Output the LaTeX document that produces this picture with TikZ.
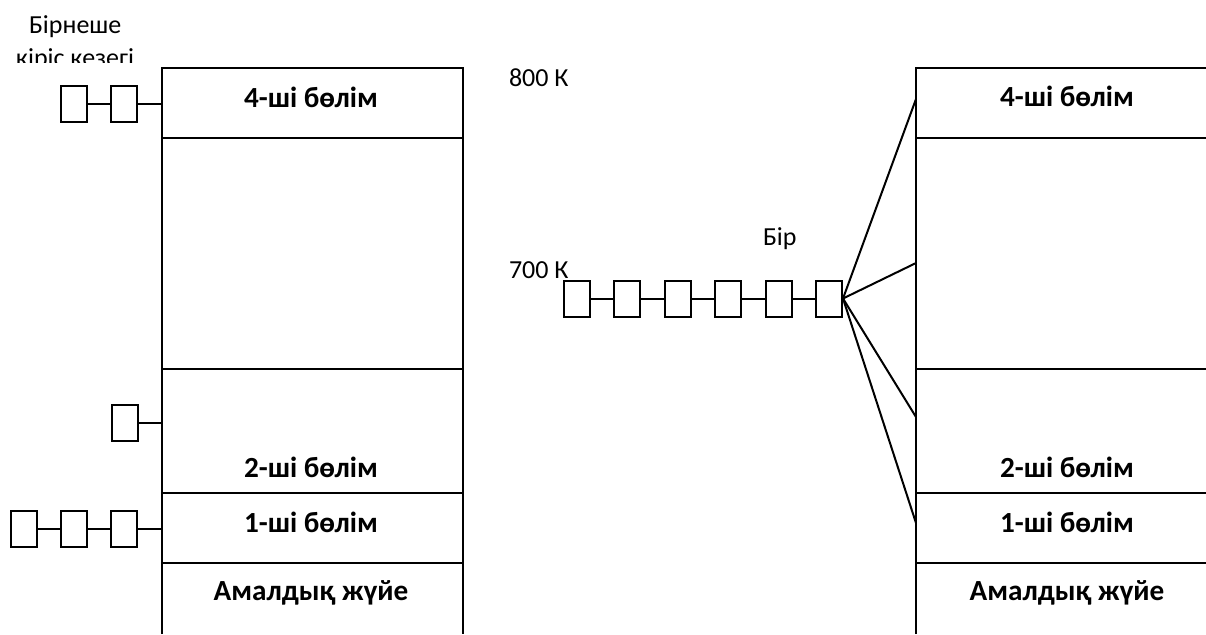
\documentclass[tikz,border=0pt]{standalone}
\usepackage{fontspec}
\setmainfont{Carlito}
\usetikzlibrary{positioning}
\tikzset{every picture/.style={line width=1pt}}
\tikzset{
  qbox/.style={draw, rectangle, minimum width=13pt, minimum height=18pt, inner sep=0pt},
  part/.style={font=\bfseries\fontsize{14.6}{18}\selectfont, anchor=base},
  note/.style={font=\fontsize{13}{16}\selectfont, anchor=base west, inner sep=0pt},
}

\begin{document}
\begin{tikzpicture}[x=0.5pt, y=-0.5pt]
    \useasboundingbox (0,0) rectangle (1206,634);

    % жадтың сол жақ бағаны
    \draw (162,634) -- (162,68) -- (463,68) -- (463,634);
    \foreach \y in {138,369,493,563}
        \draw (162,\y) -- (463,\y);
    \coordinate (lcol) at (162,0);

    % жадтың оң жақ бағаны
    \draw (916,634) -- (916,68) -- (1210,68);
    \foreach \y in {138,369,493,563}
        \draw (916,\y) -- (1210,\y);

    % бөлімдер
    \node[part] (l4) at (311,107) {4-ші бөлім};
    \node[part] (l2) at (311,477) {2-ші бөлім};
    \node[part] (l1) at (311,532) {1-ші бөлім};
    \node[part] (los) at (311,600) {Амалдық жүйе};
    \node[part] (r4) at (1067,106) {4-ші бөлім};
    \node[part] (r2) at (1067,477) {2-ші бөлім};
    \node[part] (r1) at (1067,532) {1-ші бөлім};
    \node[part] (ros) at (1067,600) {Амалдық жүйе};

    % жазулар
    \node[note] (many) at (28,33) {Бірнеше};
    \begin{scope}
        \clip (0,40) rectangle (160,62);
        \node[note] (queues) at (15,66) {кіріс кезегі};
    \end{scope}
    \node[note] (k800) at (508,86) {800 К};
    \node[note] (k700) at (508,278) {700 К};
    \node[note] (one) at (762,245) {Бір};

    % бірнеше кезек
    \node[qbox] (a1) at (74,103.5) {};
    \node[qbox, right=11pt of a1] (a2) {};
    \draw (a1) -- (a2);
    \draw (a2.east) -- (a2.east -| lcol);

    \node[qbox] (b1) at (124.5,422.5) {};
    \draw (b1.east) -- (b1.east -| lcol);

    \node[qbox] (c1) at (24,528.5) {};
    \node[qbox, right=11pt of c1] (c2) {};
    \node[qbox, right=11pt of c2] (c3) {};
    \draw (c1) -- (c2);
    \draw (c2) -- (c3);
    \draw (c3.east) -- (c3.east -| lcol);

    % бір кезек
    \node[qbox] (q1) at (577,298.5) {};
    \foreach \i [count=\j from 1] in {2,...,6} {
        \node[qbox, right=11.2pt of q\j] (q\i) {};
        \draw (q\j) -- (q\i);
    }

    % оң бағанға таралу
    \coordinate (t4) at (916,99);
    \coordinate (t3) at (916,263);
    \coordinate (t2) at (916,417);
    \coordinate (t1) at (916,523);
    \foreach \t in {t4,t3,t2,t1}
        \draw (q6.east) -- (\t);
\end{tikzpicture}
\end{document}
